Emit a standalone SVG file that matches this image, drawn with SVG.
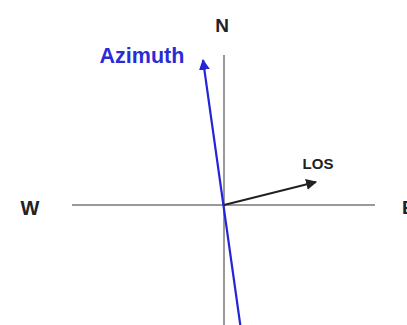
<svg xmlns="http://www.w3.org/2000/svg" width="407" height="325" viewBox="0 0 407 325">
<style>
.lbl{font-family:"Liberation Sans",Arial,sans-serif;font-weight:bold;fill:#222}
.axis{stroke:#777;stroke-width:1.5;fill:none}
</style>
<defs>
<marker id="ab" viewBox="0 0 10 10" refX="9" refY="5" markerWidth="5" markerHeight="5" orient="auto" markerUnits="strokeWidth"><path d="M0,0 L10,5 L0,10 Z" fill="#2424d8"/></marker>
<marker id="ak" viewBox="0 0 10 10" refX="9" refY="5" markerWidth="5" markerHeight="5" orient="auto" markerUnits="strokeWidth"><path d="M0,0 L10,5 L0,10 Z" fill="#222"/></marker>
</defs>
<rect width="407" height="325" fill="#fff"/>
<g id="axes">
<line class="axis" x1="72" y1="205" x2="375" y2="205"/>
<line class="axis" x1="224" y1="55" x2="224" y2="325"/>
</g>
<g id="connectors">
<line x1="241" y1="330" x2="203" y2="60" stroke="#2424d8" stroke-width="2.2" marker-end="url(#ab)"/>
<line x1="224" y1="205" x2="316" y2="182" stroke="#222" stroke-width="2.2" marker-end="url(#ak)"/>
</g>
<g id="labels">
<text class="lbl" x="222" y="32" font-size="19" text-anchor="middle">N</text>
<text class="lbl" x="30" y="215" font-size="20" text-anchor="middle">W</text>
<text class="lbl" x="402" y="214" font-size="19">E</text>
<text class="lbl" x="318" y="169" font-size="15" text-anchor="middle">LOS</text>
<text class="lbl" x="142" y="63" font-size="21.5" text-anchor="middle" style="fill:#2b2bd6">Azimuth</text>
</g>
</svg>
